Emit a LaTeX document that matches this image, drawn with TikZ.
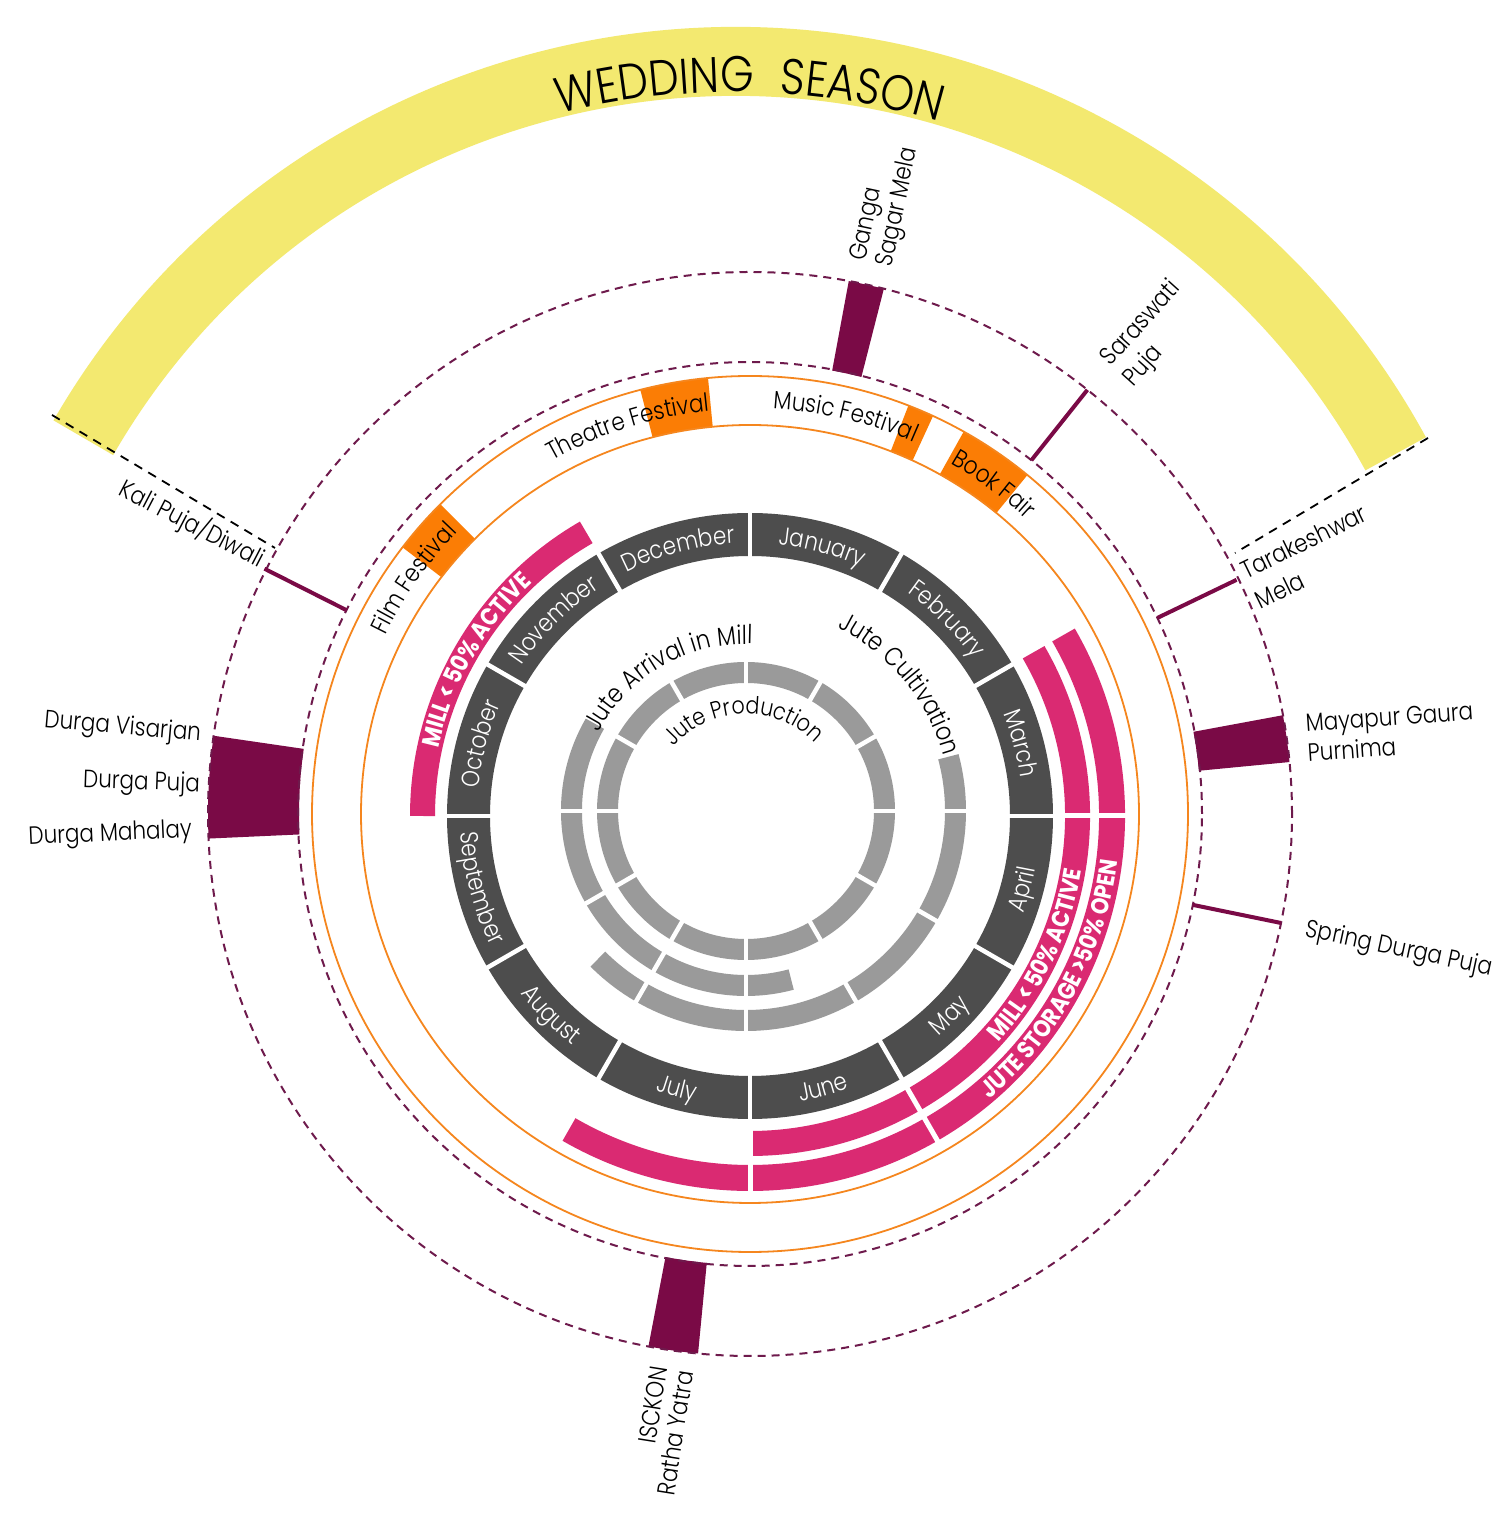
\documentclass[tikz,border=0pt]{standalone}
\usepackage{fontspec}
\IfFontExistsTF{Poppins Light}{\setmainfont{Poppins Light}[FakeStretch=0.86]}{\setmainfont{Poppins}[FakeStretch=0.86]}
\newfontfamily\boldfam{Poppins}[FakeStretch=0.86]
\usetikzlibrary{calc}
\definecolor{monthgray}{HTML}{4D4D4D}
\definecolor{jutegray}{HTML}{9A9A9A}
\definecolor{mag}{HTML}{DA2A72}
\definecolor{orangefill}{HTML}{FB7D05}
\definecolor{orangeline}{HTML}{F5861E}
\definecolor{eventmaroon}{HTML}{7A0A46}
\definecolor{dashpurple}{HTML}{6E1A4C}
\definecolor{wedyellow}{HTML}{F3E970}
\newcommand\lblfont{\fontsize{25}{28}\selectfont}
\newcommand\mfont{\fontsize{25}{30}\selectfont}
\newcommand\jpfont{\fontsize{24}{28}\selectfont}
\newcommand\jfont{\fontsize{26}{30}\selectfont}
\newcommand\magfont{\boldfam\bfseries\fontsize{24.5}{28}\selectfont}
\newcommand\wedfont{\fontsize{50}{60}\selectfont}
% annular sector: style, centre, start, end, r in, r out
\newcommand\annsec[6]{\fill[#1] ($(#2)+(#3:#6)$) arc[start angle=#3,end angle=#4,radius=#6] -- ($(#2)+(#4:#5)$) arc[start angle=#4,end angle=#3,radius=#5] -- cycle;}
% curved text, one node per character:
% centre, radius (baseline), middle angle, direction (-1 clockwise / +1 counter-clockwise), colour, font, text
\makeatletter
\newdimen\ctw
\def\ct@stop{\ct@stop}
\def\ct@measure#1{\pgfinterruptpicture\setbox0\hbox{#1}\global\ctw=\wd0\relax\endpgfinterruptpicture\edef\ct@wpt{\strip@pt\ctw}}
\newcommand\arctext[7]{%
  \def\ct@c{#1}\def\ct@r{#2}\def\ct@dir{#4}\def\ct@col{#5}\def\ct@font{#6}%
  \ct@measure{#6#7}%
  \pgfmathsetmacro\ct@ang{#3-(#4)*(\ct@wpt/2)/(#2)*57.29578}%
  \ct@walk#7\ct@stop}
\def\ct@walk{\futurelet\ct@next\ct@check}
\def\ct@check{%
  \ifx\ct@next\ct@stop
    \let\ct@do\ct@end
  \else
    \ifx\ct@next\@sptoken
      \let\ct@do\ct@space
    \else
      \let\ct@do\ct@char
    \fi
  \fi
  \ct@do}
\def\ct@end\ct@stop{}
\def\ct@space{%
  \ct@measure{\ct@font\ }%
  \pgfmathsetmacro\ct@ang{\ct@ang+(\ct@dir)*\ct@wpt/\ct@r*57.29578}%
  \afterassignment\ct@walk\let\ct@tmp= }
\def\ct@char#1{%
  \ct@measure{\ct@font#1}%
  \pgfmathsetmacro\ct@mid{\ct@ang+(\ct@dir)*\ct@wpt/2/\ct@r*57.29578}%
  \pgfmathsetmacro\ct@ang{\ct@ang+(\ct@dir)*\ct@wpt/\ct@r*57.29578}%
  \node[inner sep=0pt,anchor=base,text=\ct@col,font=\ct@font,rotate=\ct@mid+90*(\ct@dir)] at ($(\ct@c)+(\ct@mid:\ct@r)$) {#1};%
  \ct@walk}
\makeatother
\begin{document}
\begin{tikzpicture}[x=1pt,y=1pt,
  lbl/.style={font=\lblfont, inner sep=0pt, text=black},
  monthgap/.style={white, line width=4.5pt},
  dashcircle/.style={dashpurple, line width=2pt, dash pattern=on 8pt off 6pt},
  blackdash/.style={black, line width=1.8pt, dash pattern=on 9pt off 7pt},
  eventline/.style={eventmaroon, line width=4pt},
  orangering/.style={orangeline, line width=1.8pt}]
\useasboundingbox (0,0) rectangle (1502,1521);
\fill[white] (0,0) rectangle (1502,1521);
\coordinate (C) at (750,705);
\coordinate (G) at (746,710);
\coordinate (O) at (750,707);
\coordinate (Yc) at (735,707);

% ---------- wedding season ----------
\draw[wedyellow, line width=69pt] ($(Yc)+(150:752.5)$) arc[start angle=150,end angle=28.6,radius=752.5];
\arctext{Yc}{722}{96.3}{-1}{black}{\wedfont}{WEDDING}
\arctext{Yc}{722}{80}{-1}{black}{\wedfont}{SEASON}
\coordinate (wl1) at (52,1106);
\coordinate (wl2) at (275,973);
\coordinate (wr1) at (1428,1083);
\coordinate (wr2) at (1235,968);
\draw[blackdash] (wl1) -- (wl2);
\draw[blackdash] (wr1) -- (wr2);

% ---------- event blocks and lines ----------
\annsec{eventmaroon}{O}{75.7}{79.5}{451}{542}
\annsec{eventmaroon}{O}{5.5}{10.5}{451}{542}
\annsec{eventmaroon}{O}{171.7}{182.6}{451}{542}
\annsec{eventmaroon}{O}{-100.8}{-95.5}{451}{542}
\draw[dashcircle] (O) circle[radius=452];
\draw[dashcircle] (O) circle[radius=542];
\coordinate (k1) at ($(O)+(153.2:452)$); \coordinate (k2) at ($(O)+(153.2:544)$);
\coordinate (s1) at ($(O)+(51.5:452)$);  \coordinate (s2) at ($(O)+(51.5:542)$);
\coordinate (t1) at ($(O)+(25.7:452)$);  \coordinate (t2) at ($(O)+(25.7:540)$);
\coordinate (p1) at ($(O)+(-11.6:452)$); \coordinate (p2) at ($(O)+(-11.6:542)$);
\draw[eventline] (k1) -- (k2);
\draw[eventline] (s1) -- (s2);
\draw[eventline] (t1) -- (t2);
\draw[eventline] (p1) -- (p2);

% ---------- festival band ----------
\annsec{orangefill}{O}{95.5}{104.5}{389}{438}
\annsec{orangefill}{O}{65.3}{68.8}{389}{438}
\annsec{orangefill}{O}{50.7}{60.8}{389}{438}
\annsec{orangefill}{O}{135}{142.5}{389}{438}
\draw[orangering] (O) circle[radius=389];
\draw[orangering] (O) circle[radius=438];
\arctext{O}{405}{107.5}{-1}{black}{\mfont}{Theatre Festival}
\arctext{O}{406}{76.5}{-1}{black}{\mfont}{Music Festival}
\arctext{O}{404}{53.5}{-1}{black}{\mfont}{Book Fair}
\arctext{O}{406}{145}{-1}{black}{\mfont}{Film Festival}

% ---------- mill bars ----------
\draw[mag, line width=25pt] ($(C)+(120:327.5)$) arc[start angle=120,end angle=180,radius=327.5];
\draw[mag, line width=25pt] ($(C)+(30:327.5)$) arc[start angle=30,end angle=-90,radius=327.5];
\draw[mag, line width=26pt] ($(C)+(30:362)$) arc[start angle=30,end angle=-120,radius=362];
\foreach \a in {0,-60,-90} \draw[white, line width=5pt] ($(C)+(\a:310)$) -- ($(C)+(\a:380)$);
\arctext{C}{319}{150.4}{-1}{white}{\magfont}{MILL < 50\% ACTIVE}
\arctext{C}{336}{-25.8}{1}{white}{\magfont}{MILL < 50\% ACTIVE}
\arctext{C}{370.5}{-28.4}{1}{white}{\magfont}{JUTE STORAGE >50\% OPEN}

% ---------- month ring ----------
\draw[monthgray, line width=43pt] (C) circle[radius=281.5];
\foreach \a in {0,30,...,330} \draw[monthgap] ($(C)+(\a:255)$) -- ($(C)+(\a:308)$);
\arctext{C}{273}{75}{-1}{white}{\mfont}{January}
\arctext{C}{273}{45}{-1}{white}{\mfont}{February}
\arctext{C}{273}{15}{-1}{white}{\mfont}{March}
\arctext{C}{273}{165}{-1}{white}{\mfont}{October}
\arctext{C}{273}{135}{-1}{white}{\mfont}{November}
\arctext{C}{273}{105}{-1}{white}{\mfont}{December}
\arctext{C}{290}{-15}{1}{white}{\mfont}{April}
\arctext{C}{290}{-45}{1}{white}{\mfont}{May}
\arctext{C}{290}{-75}{1}{white}{\mfont}{June}
\arctext{C}{290}{-105}{1}{white}{\mfont}{July}
\arctext{C}{290}{-135}{1}{white}{\mfont}{August}
\arctext{C}{290}{-165}{1}{white}{\mfont}{September}

% ---------- jute rings ----------
\draw[jutegray, line width=21pt] (G) circle[radius=138.5];
\foreach \a in {0,30,...,330} \draw[monthgap] ($(G)+(\a:124)$) -- ($(G)+(\a:153)$);
\draw[jutegray, line width=21pt] ($(G)+(150:174.5)$) arc[start angle=150,end angle=285,radius=174.5];
\foreach \a in {180,210,240,270} \draw[monthgap] ($(G)+(\a:160)$) -- ($(G)+(\a:189)$);
\draw[jutegray, line width=21pt] ($(G)+(-135:209.5)$) arc[start angle=-135,end angle=15,radius=209.5];
\foreach \a in {-120,-90,-60,-30,0} \draw[monthgap] ($(G)+(\a:195)$) -- ($(G)+(\a:224)$);
\arctext{G}{97}{91.5}{-1}{black}{\jpfont}{Jute Production}
\arctext{G}{167}{120}{-1}{black}{\jfont}{Jute Arrival in Mill}
\arctext{G}{205}{39.5}{-1}{black}{\jfont}{Jute Cultivation}

% ---------- event labels ----------
\node[lbl, font={\fontsize{25}{27}\selectfont}, anchor=west, align=left, rotate=78] (ganga) at ($(O)+(77.4:564)$) {Ganga\\Sagar Mela};
\node[lbl, font={\fontsize{25}{30}\selectfont}, anchor=west, align=left, rotate=48] (saras) at ($(O)+(50.2:574)$) {Saraswati\\Puja};
\node[lbl, font={\fontsize{25}{33}\selectfont}, anchor=west, align=left, rotate=26] (tarak) at ($(O)+(24.5:549)$) {Tarakeshwar\\Mela};
\node[lbl, font={\fontsize{25}{30}\selectfont}, anchor=west, align=left, rotate=4] (maya) at ($(O)+(7.8:561.7)$) {Mayapur Gaura\\Purnima};
\node[lbl, anchor=west, rotate=-12] (spring) at ($(O)+(-11.8:568)$) {Spring Durga Puja};
\node[lbl, font={\fontsize{25}{26.5}\selectfont}, anchor=east, align=right, rotate=81] (isckon) at ($(O)+(-98:560)$) {ISCKON\\Ratha Yatra};
\node[lbl, anchor=east, rotate=-27.5] (kali) at ($(O)+(152.5:548.8)$) {Kali Puja/Diwali};
\node[lbl, anchor=east, rotate=-5] (visarjan) at (201,786) {Durga Visarjan};
\node[lbl, anchor=east, rotate=-2] (durgapuja) at (200,735.5) {Durga Puja};
\node[lbl, anchor=east, rotate=2.5] (mahalay) at (192,689.5) {Durga Mahalay};
\end{tikzpicture}
\end{document}
